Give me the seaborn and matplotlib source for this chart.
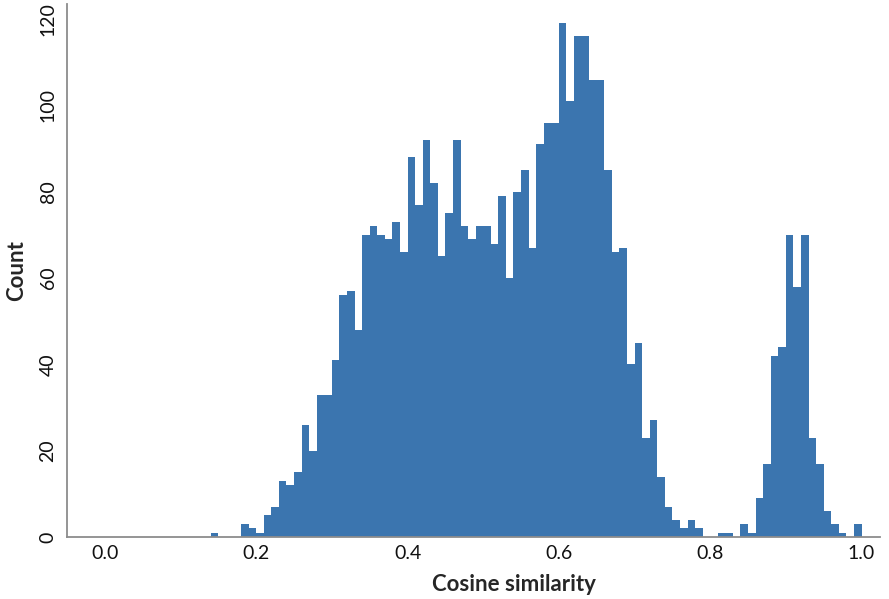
import numpy as np
import pandas as pd
import matplotlib
matplotlib.use("Agg")
import matplotlib.pyplot as plt
import seaborn as sns

# Histogram counts per 0.01-wide bin, starting at 0.14
first_bin = 0.14
bin_width = 0.01
counts = [
    1, 0, 0, 0, 3, 2,                              # 0.14 - 0.19
    1, 5, 7, 13, 12, 15, 26, 20, 33, 33,           # 0.20 - 0.29
    41, 56, 57, 48, 70, 72, 70, 69, 73, 66,        # 0.30 - 0.39
    88, 77, 92, 82, 65, 75, 92, 72, 69, 72,        # 0.40 - 0.49
    72, 68, 79, 60, 80, 85, 67, 91, 96, 96,        # 0.50 - 0.59
    119, 101, 116, 116, 106, 106, 85, 66, 67, 40,  # 0.60 - 0.69
    45, 23, 27, 14, 7, 4, 2, 4, 2, 0,              # 0.70 - 0.79
    0, 1, 1, 0, 3, 1, 9, 17, 42, 44,               # 0.80 - 0.89
    70, 58, 70, 23, 17, 6, 3, 1, 0, 3,             # 0.90 - 0.99
]
x_ticks = [0.0, 0.2, 0.4, 0.6, 0.8, 1.0]
y_ticks = [0, 20, 40, 60, 80, 100, 120]
x_label = "Cosine similarity"
y_label = "Count"

centers = first_bin + bin_width * (np.arange(len(counts)) + 0.5)
df = pd.DataFrame({"similarity": centers, "n": counts})

sns.set_style("white")
plt.rcParams["font.family"] = ["Lato", "DejaVu Sans"]

fig = plt.figure(figsize=(8.89, 5.99), dpi=100)
ax = fig.add_axes([0.0754, 0.1035, 0.915, 0.8898])

sns.histplot(data=df, x="similarity", weights="n", bins=100,
             binrange=(0.0, 1.0), color="#3B75AF", alpha=1.0,
             edgecolor="none", linewidth=0, ax=ax)

ax.set_xlim(-0.05, 1.025)
ax.set_ylim(0, 123.5)
ax.set_xticks(x_ticks)
ax.set_xticklabels([f"{v:.1f}" for v in x_ticks], fontsize=14)
ax.set_yticks(y_ticks)
ax.set_yticklabels([str(v) for v in y_ticks], fontsize=14, rotation=90,
                   va="center")

for side in ("top", "right"):
    ax.spines[side].set_visible(False)
for side in ("left", "bottom"):
    ax.spines[side].set_color("#8c8c8c")
    ax.spines[side].set_linewidth(1.3)

ax.tick_params(axis="x", direction="out", length=4, width=1, color="#8c8c8c",
               pad=2, labelcolor="#111111")
ax.tick_params(axis="y", direction="out", length=3, width=1, color="#8c8c8c",
               pad=4.5, labelcolor="#111111")

ax.set_xlabel(x_label, fontsize=16, fontweight="bold")
ax.xaxis.set_label_coords(0.549, -0.07)
ax.set_ylabel(y_label, fontsize=16, fontweight="bold", labelpad=9)

fig.savefig("out.png", dpi=100)
